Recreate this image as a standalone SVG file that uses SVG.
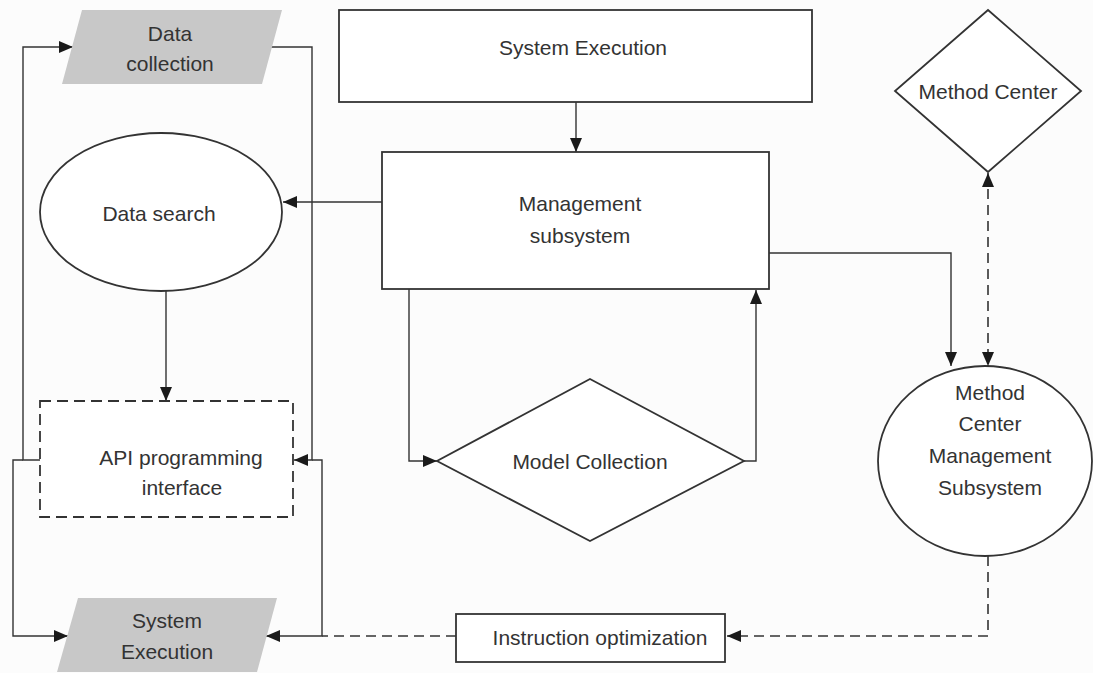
<svg xmlns="http://www.w3.org/2000/svg" width="1093" height="673" viewBox="0 0 1093 673">
<style>
.sh{fill:#fff;stroke:#333;stroke-width:1.8}
.gr{fill:#c8c8c8;stroke:none}
.ds{fill:#fff;stroke:#333;stroke-width:1.8;stroke-dasharray:11,6}
.t{font-family:"Liberation Sans",Arial,sans-serif;font-size:21px;fill:#333;text-anchor:middle;dominant-baseline:central}
.c{fill:none;stroke:#333;stroke-width:1.4}
.cd{fill:none;stroke:#333;stroke-width:1.6;stroke-dasharray:10,6}
</style>
<defs>
<marker id="ah" markerUnits="userSpaceOnUse" markerWidth="15" markerHeight="12" refX="14" refY="6" orient="auto-start-reverse">
<path d="M0,0 L14,6 L0,12 Z" fill="#1a1a1a"/>
</marker>
</defs>
<rect width="1093" height="673" fill="#fcfcfc"/>
<g id="connectors">
<path class="c" d="M576,102 V152" marker-end="url(#ah)"/>
<path class="c" d="M382,202 H283" marker-end="url(#ah)"/>
<path class="c" d="M166,291 V401" marker-end="url(#ah)"/>
<path class="c" d="M409,289 V461 H437" marker-end="url(#ah)"/>
<path class="c" d="M744,461 H756 V290" marker-end="url(#ah)"/>
<path class="c" d="M769,253 H951 V366" marker-end="url(#ah)"/>
<path class="cd" d="M988,173 V366" marker-start="url(#ah)" marker-end="url(#ah)"/>
<path class="cd" d="M988,556 V636 H727" marker-end="url(#ah)"/>
<path class="cd" d="M456,636 H322"/>
<path class="c" d="M312,460 H322 V636 H266" marker-end="url(#ah)"/>
<path class="c" d="M271,47 H312 V460 H294" marker-end="url(#ah)"/>
<path class="c" d="M40,460 H23 V47 H73" marker-end="url(#ah)"/>
<path class="c" d="M23,460 H13 V636 H68" marker-end="url(#ah)"/>
</g>
<g id="data-collection">
<polygon class="gr" points="82,10 282,10 262,84 62,84"/>
<text class="t" x="170" y="33">Data</text>
<text class="t" x="170" y="63">collection</text>
</g>
<g id="system-execution-top">
<rect class="sh" x="339" y="10" width="473" height="92"/>
<text class="t" x="583" y="47">System Execution</text>
</g>
<g id="method-center">
<polygon class="sh" points="988,10 1081,91 988,172 895,91"/>
<text class="t" x="988" y="91">Method Center</text>
</g>
<g id="data-search">
<ellipse class="sh" cx="161" cy="212" rx="121" ry="79"/>
<text class="t" x="159" y="213">Data search</text>
</g>
<g id="management-subsystem">
<rect class="sh" x="382" y="152" width="387" height="137"/>
<text class="t" x="580" y="203">Management</text>
<text class="t" x="580" y="235">subsystem</text>
</g>
<g id="model-collection">
<polygon class="sh" points="590,379 744,461 590,541 437,461"/>
<text class="t" x="590" y="461">Model Collection</text>
</g>
<g id="method-center-management">
<ellipse class="sh" cx="985" cy="461" rx="107" ry="95"/>
<text class="t" x="990" y="392">Method</text>
<text class="t" x="990" y="423">Center</text>
<text class="t" x="990" y="455">Management</text>
<text class="t" x="990" y="487">Subsystem</text>
</g>
<g id="api-interface">
<rect class="ds" x="40" y="401" width="253" height="116"/>
<text class="t" x="181" y="457">API programming</text>
<text class="t" x="182" y="487">interface</text>
</g>
<g id="system-execution-bottom">
<polygon class="gr" points="78,598 277,598 257,672 57,672"/>
<text class="t" x="167" y="620">System</text>
<text class="t" x="167" y="651">Execution</text>
</g>
<g id="instruction-optimization">
<rect class="sh" x="456" y="614" width="269" height="48"/>
<text class="t" x="600" y="637">Instruction optimization</text>
</g>
</svg>
